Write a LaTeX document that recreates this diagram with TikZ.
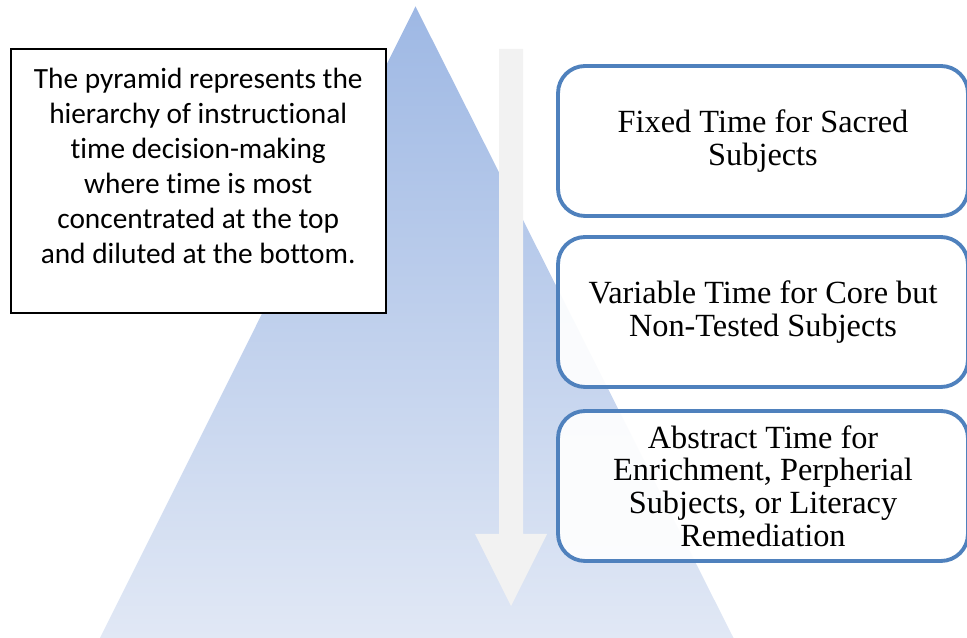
\documentclass[tikz,border=0pt]{standalone}
\usepackage{fontspec}
\setmainfont{Liberation Serif}
\newfontfamily\notefont[Ligatures=NoCommon]{Carlito}
\usepackage{xcolor}
\usetikzlibrary{positioning}
\definecolor{pyrtop}{RGB}{158,184,228}
\definecolor{pyrbot}{RGB}{225,232,245}
\definecolor{tierblue}{RGB}{79,129,189}
\definecolor{arrowgray}{RGB}{242,242,242}

\begin{document}
\begin{tikzpicture}[
    x=0.02cm, y=0.02cm,
    tier/.style={rectangle, draw=tierblue, line width=2.2pt, rounded corners=0.54cm, fill=white, fill opacity=0.92, text opacity=1, minimum width=8.2cm, minimum height=3cm, align=center, font=\fontsize{18.4}{18.6}\selectfont},
    notebox/.style={rectangle, draw=black, line width=1.1pt, fill=white, minimum width=7.5cm, minimum height=5.27cm},
    notetext/.style={align=center, inner sep=0pt, font=\notefont\fontsize{16.7}{20}\selectfont}
]
    \useasboundingbox (0,0) rectangle (967,638);
    \clip (0,0) rectangle (967,638);

    % Pyramid (background)
    \shade[top color=pyrtop, bottom color=pyrbot] (415.5,631.5) -- (733.5,0) -- (100,0) -- cycle;

    % Downward arrow
    \fill[arrowgray] (499,589) -- (523,589) -- (523,104) -- (547,104) -- (511,32) -- (475,104) -- (499,104) -- cycle;

    % Note
    \node[notebox] (note) at (198.2,457) {};
    \node[notetext, below=0.38cm of note.north] (notetxt) {The pyramid represents the\\hierarchy of instructional\\time decision-making\\where time is most\\concentrated at the top\\and diluted at the bottom.};

    % Tiers
    \node[tier] (t1) at (763,497) {Fixed Time for Sacred\\Subjects};
    \node[tier] (t2) at (763,326) {Variable Time for Core but\\Non-Tested Subjects};
    \node[tier] (t3) at (763,152) {Abstract Time for\\Enrichment, Perpherial\\Subjects, or Literacy\\Remediation};

\end{tikzpicture}
\end{document}
